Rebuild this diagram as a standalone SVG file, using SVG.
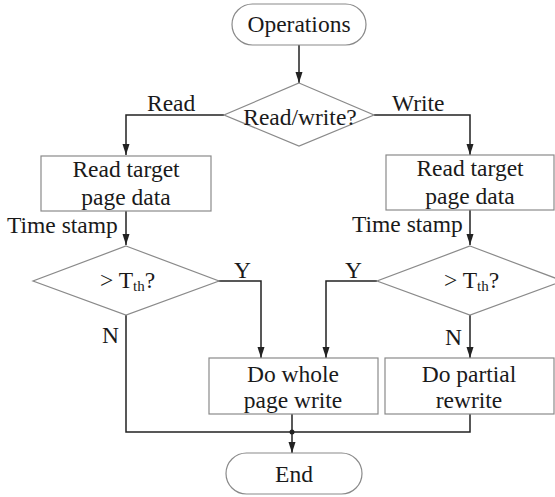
<svg xmlns="http://www.w3.org/2000/svg" width="555" height="497" viewBox="0 0 555 497" font-family="Liberation Serif, Tinos, Times New Roman, DejaVu Serif, serif">
<defs>
<marker id="ah" markerUnits="userSpaceOnUse" markerWidth="8" markerHeight="11" refX="8" refY="3.5" orient="auto" viewBox="0 0 8 7" overflow="visible">
<path d="M0,0 L11,3.5 L0,7 z" fill="#222" transform="translate(-3,0)"/>
</marker>
</defs>
<style>
.n{fill:#fff;stroke:#8a8a8a;stroke-width:1.2}
.t{font-family:'Liberation Serif','Times New Roman','DejaVu Serif',serif;font-size:23.5px;fill:#1a1a1a;text-anchor:middle}
.l{font-family:'Liberation Serif','Times New Roman','DejaVu Serif',serif;font-size:23.5px;fill:#1a1a1a}
.c{fill:none;stroke:#222;stroke-width:1.5}
</style>
<rect width="555" height="497" fill="#fff"/>
<g id="connectors">
<path class="c" d="M299,45 V83" marker-end="url(#ah)"/>
<path class="c" d="M224,115 H126 V155" marker-end="url(#ah)"/>
<path class="c" d="M374,115 H470 V155" marker-end="url(#ah)"/>
<path class="c" d="M126,211 V245" marker-end="url(#ah)"/>
<path class="c" d="M470,210 V245" marker-end="url(#ah)"/>
<path class="c" d="M218,281 H261 V358" marker-end="url(#ah)"/>
<path class="c" d="M377,281 H326 V358" marker-end="url(#ah)"/>
<path class="c" d="M470,315 V358" marker-end="url(#ah)"/>
<path class="c" d="M126,315 V432 H470 V414"/>
<path class="c" d="M292,414 V453" marker-end="url(#ah)"/>
<circle cx="292" cy="432" r="2.5" fill="#222"/>
<text class="l" x="147" y="111">Read</text>
<text class="l" x="392" y="111">Write</text>
<text class="l" x="7" y="233">Time stamp</text>
<text class="l" x="352" y="232">Time stamp</text>
<text class="l" x="234" y="278">Y</text>
<text class="l" x="345" y="278">Y</text>
<text class="l" x="102" y="343">N</text>
<text class="l" x="445" y="345">N</text>
</g>
<g id="operations">
<rect class="n" x="232" y="4" width="134" height="41" rx="20.5"/>
<text class="t" x="299" y="32">Operations</text>
</g>
<g id="readwrite">
<path class="n" d="M299,83 L374,115 L299,146 L224,115 z"/>
<text class="t" x="300" y="125">Read/write?</text>
</g>
<g id="read-left">
<rect class="n" x="41" y="156" width="170" height="55"/>
<text class="t" x="126" y="177">Read target</text>
<text class="t" x="126" y="205">page data</text>
</g>
<g id="read-right">
<rect class="n" x="386" y="155" width="168" height="55"/>
<text class="t" x="470" y="176">Read target</text>
<text class="t" x="470" y="204">page data</text>
</g>
<g id="th-left">
<path class="n" d="M126,246 L219,281 L126,315 L33,281 z"/>
<text class="l" x="100" y="288">&gt; T<tspan font-size="15" dy="3">th</tspan><tspan dy="-3">?</tspan></text>
</g>
<g id="th-right">
<path class="n" d="M470,246 L563,281 L470,315 L377,281 z"/>
<text class="l" x="444" y="288">&gt; T<tspan font-size="15" dy="3">th</tspan><tspan dy="-3">?</tspan></text>
</g>
<g id="whole">
<rect class="n" x="209" y="358" width="169" height="56"/>
<text class="t" x="293" y="382">Do whole</text>
<text class="t" x="293" y="408">page write</text>
</g>
<g id="partial">
<rect class="n" x="385" y="358" width="169" height="56"/>
<text class="t" x="469" y="382">Do partial</text>
<text class="t" x="469" y="408">rewrite</text>
</g>
<g id="end">
<rect class="n" x="226" y="453" width="136" height="41" rx="20.5"/>
<text class="t" x="294" y="482">End</text>
</g>
</svg>
